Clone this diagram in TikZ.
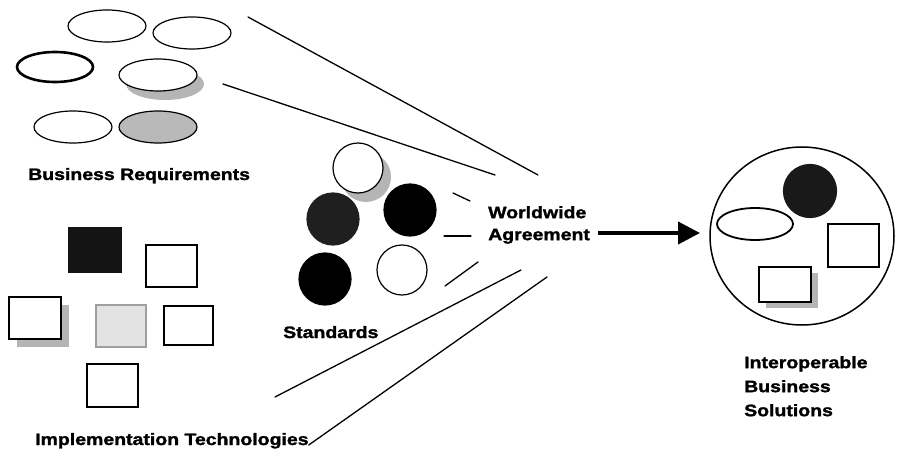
\documentclass[tikz,border=0pt]{standalone}
\usepackage{fontspec}
\newfontfamily\lblfont[FakeStretch=1.18, FakeBold=1.6]{Liberation Sans Bold}
\usetikzlibrary{shapes.geometric,shadows,arrows.meta}

\begin{document}
\begin{tikzpicture}[x=1pt,y=-1pt,
  outline/.style={draw=black, line width=1.2pt, inner sep=0pt, outer sep=0pt},
  oval/.style={outline, ellipse, minimum width=78pt, minimum height=32pt},
  disc/.style={outline, circle, minimum size=51pt},
  card/.style={outline, rectangle, minimum width=51pt, minimum height=43pt},
  heavy/.style={line width=2.6pt},
  shadowed/.style 2 args={drop shadow={shadow xshift=#1, shadow yshift=#2,
      fill=gray!58, opacity=1}},
  fan/.style={line width=1.3pt, line cap=round},
  lbl/.style={inner sep=0pt, font=\lblfont\fontsize{16.5}{22}\selectfont},
  bigarrow/.style={line width=4pt, -{Triangle[length=22pt,width=22pt]}}
]
\useasboundingbox (0,0) rectangle (898,452);

% --- business requirements: ovals
\node[oval, fill=white] (e1) at (107,26) {};
\node[oval, fill=white] (e2) at (192,33) {};
\node[oval, heavy, fill=white, minimum width=76pt, minimum height=30pt] (e3) at (55,67) {};
\node[oval, fill=white, shadowed={7pt}{-9pt}] (e4) at (158,75) {};
\node[oval, fill=white] (e5) at (73,127) {};
\node[oval, fill=gray!55] (e6) at (158,127) {};
\node[lbl, anchor=base west] (busreq) at (28,180) {Business Requirements};

% --- implementation technologies: cards
\node[card, fill=black!92, draw=black!92, minimum width=52pt, minimum height=44pt] (r1) at (95,250) {};
\node[card, fill=white, minimum height=42pt] (r2) at (171.5,266) {};
\node[card, fill=white, minimum width=52pt, minimum height=42pt, shadowed={8pt}{-8pt}] (r3) at (35,318) {};
\node[card, fill=gray!22, draw=gray!75, minimum width=50pt, minimum height=42pt] (r4) at (121,326) {};
\node[card, heavy, fill=white, minimum width=49pt, minimum height=39pt] (r5) at (188.5,325.5) {};
\node[card, fill=white] (r6) at (112.5,385.5) {};
\node[lbl, anchor=base west] (impl) at (35,445) {Implementation Technologies};

% --- standards: discs
\node[disc, fill=white, minimum size=50pt, shadowed={8pt}{-9pt}] (c1) at (358,168) {};
\node[disc, fill=black!88, draw=black!88, minimum size=52pt] (c2) at (333,219) {};
\node[disc, fill=black, minimum size=52pt] (c3) at (410,210) {};
\node[disc, fill=black, minimum size=52pt] (c4) at (325,279) {};
\node[disc, fill=white, minimum size=50pt] (c5) at (402,270) {};
\node[lbl, anchor=base west] (std) at (283,338) {Standards};

% --- worldwide agreement
\node[lbl, anchor=north west, align=left] (agree) at (488,206) {Worldwide\\Agreement};

% --- fan of lines converging on the agreement
\coordinate (f1a) at (248,17);  \coordinate (f1b) at (538,175);
\coordinate (f2a) at (223,84);  \coordinate (f2b) at (495,175);
\coordinate (s1a) at (453,193); \coordinate (s1b) at (470,201);
\coordinate (s2a) at (444,236); \coordinate (s2b) at (471,236);
\coordinate (s3a) at (445,286); \coordinate (s3b) at (478,262);
\coordinate (f3a) at (275,397); \coordinate (f3b) at (521,270);
\coordinate (f4a) at (impl.base east); \coordinate (f4b) at (547,277);
\draw[fan] (f1a) -- (f1b);
\draw[fan] (f2a) -- (f2b);
\draw[fan] (s1a) -- (s1b);
\draw[fan] (s2a) -- (s2b);
\draw[fan] (s3a) -- (s3b);
\draw[fan] (f3a) -- (f3b);
\draw[fan] (f4a) -- (f4b);

% --- interoperable business solutions
\node[outline, ellipse, line width=1.5pt, minimum width=184pt, minimum height=178pt] (sol) at (802,236) {};
\node[disc, fill=black!90, draw=black!90, minimum size=53pt] (sc) at (810,191) {};
\node[oval, line width=1.8pt, fill=white, minimum width=76pt, minimum height=32pt] (se) at (755,224) {};
\node[card, fill=white] (sr1) at (853.5,245.5) {};
\node[card, fill=white, minimum width=52pt, minimum height=35pt, shadowed={7pt}{-6pt}] (sr2) at (785,284.5) {};
\node[lbl, anchor=north west, align=left, font=\lblfont\fontsize{16.5}{24}\selectfont] (soltxt) at (744,356) {Interoperable\\Business\\Solutions};

% --- agreement leads to solutions
\coordinate (arrS) at (598,233);
\coordinate (arrE) at (700,233);
\draw[bigarrow] (arrS) -- (arrE);
\end{tikzpicture}
\end{document}
